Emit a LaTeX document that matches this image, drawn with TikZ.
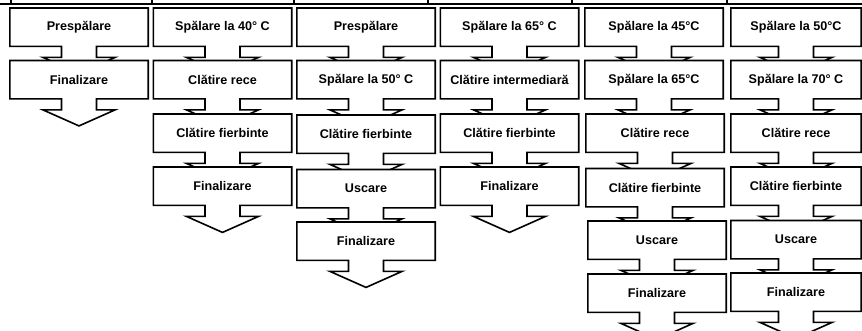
\documentclass[tikz,border=0pt]{standalone}
\usepackage{fontspec}
\setmainfont{Liberation Sans}
\pgfdeclarelayer{bg}
\pgfsetlayers{bg,main}
\tikzset{
  boxtext/.style={minimum width=138pt, minimum height=38pt, inner sep=0pt, anchor=north,
    font=\fontsize{12.6}{14}\selectfont\bfseries, text=black},
  boxline/.style={draw=black, fill=white, line width=1.6pt, line join=miter},
  rule/.style={draw=black, line width=1.6pt}
}
\newcommand\flowbox[5][]{%
  \node[boxtext,#1] (#2) at (#3,#4) {#5};
  \begin{pgfonlayer}{bg}
  \draw[boxline] (#2.north west) -- (#2.north east) -- (#2.south east)
    -- ([xshift=17.5pt]#2.south) -- ([xshift=17.5pt,yshift=-11pt]#2.south)
    -- ([xshift=36pt,yshift=-11pt]#2.south) -- ([yshift=-27pt]#2.south)
    -- ([xshift=-36pt,yshift=-11pt]#2.south) -- ([xshift=-17.5pt,yshift=-11pt]#2.south)
    -- ([xshift=-17.5pt]#2.south) -- (#2.south west) -- cycle;
  \end{pgfonlayer}}
\begin{document}
\begin{tikzpicture}[x=1pt,y=-1pt]
\useasboundingbox (0,0) rectangle (862,330);
% table rule at the top
\draw[rule] (0,4) -- (862,4);
\foreach \tx in {11,152,294,428,572,727} \draw[rule] (\tx,0) -- (\tx,4);
% column 1
\flowbox{c1r1}{79}{8}{Prespălare}
\flowbox{c1r2}{79}{60.5}{Finalizare}
% column 2
\flowbox{c2r1}{222.5}{8}{Spălare la 40° C}
\flowbox{c2r2}{222.5}{60.5}{Clătire rece}
\flowbox{c2r3}{222.5}{114}{Clătire fierbinte}
\flowbox{c2r4}{222.5}{167}{Finalizare}
% column 3
\flowbox{c3r1}{366}{8}{Prespălare}
\flowbox{c3r2}{366}{60.5}{Spălare la 50° C}
\flowbox{c3r3}{366}{115}{Clătire fierbinte}
\flowbox{c3r4}{366}{169.5}{Uscare}
\flowbox{c3r5}{366}{222}{Finalizare}
% column 4
\flowbox{c4r1}{509.5}{8}{Spălare la 65° C}
\flowbox{c4r2}{509.5}{60.5}{Clătire intermediară}
\flowbox{c4r3}{509.5}{114}{Clătire fierbinte}
\flowbox{c4r4}{509.5}{167}{Finalizare}
% column 5
\flowbox{c5r1}{654}{8}{Spălare la 45°C}
\flowbox{c5r2}{654}{60.5}{Spălare la 65°C}
\flowbox{c5r3}{655}{114}{Clătire rece}
\flowbox{c5r4}{655}{168.5}{Clătire fierbinte}
\flowbox{c5r5}{657}{221}{Uscare}
\flowbox{c5r6}{657}{274}{Finalizare}
% column 6
\flowbox[minimum width=130pt]{c6r1}{796}{8}{Spălare la 50°C}
\flowbox[minimum width=130pt]{c6r2}{796}{60.5}{Spălare la 70° C}
\flowbox[minimum width=130pt]{c6r3}{796}{114}{Clătire rece}
\flowbox[minimum width=130pt]{c6r4}{796}{167}{Clătire fierbinte}
\flowbox[minimum width=130pt]{c6r5}{796}{220.5}{Uscare}
\flowbox[minimum width=130pt]{c6r6}{796}{273}{Finalizare}
\end{tikzpicture}
\end{document}
